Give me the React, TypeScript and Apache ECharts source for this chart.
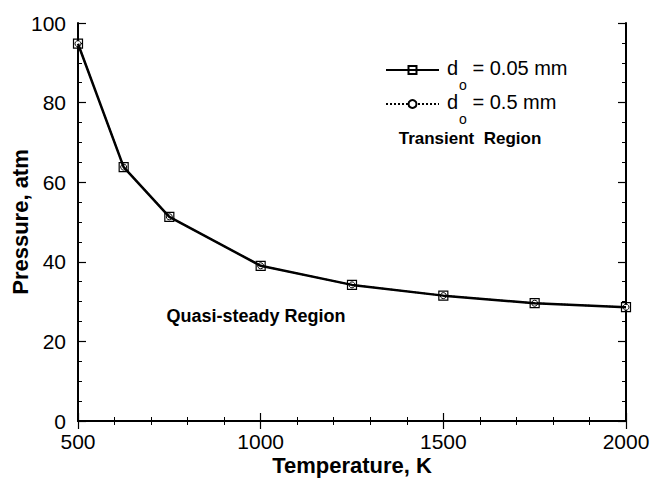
import React, { useEffect, useRef } from "react";
import * as echarts from "echarts";

const temperatures = [500, 625, 750, 1000, 1250, 1500, 1750, 2000];
const pressureSmall = [94.8, 63.8, 51.3, 39.0, 34.2, 31.5, 29.6, 28.6];
const pressureLarge = [94.8, 63.8, 51.3, 39.0, 34.2, 31.5, 29.6, 28.6];
const seriesNames = ["d_o = 0.05 mm", "d_o = 0.5 mm"];
const regionLabels = ["Transient  Region", "Quasi-steady Region"];

const FONT = "'Liberation Sans', Arial, sans-serif";

export default function App() {
  const ref = useRef<HTMLDivElement>(null);
  useEffect(() => {
    if (!ref.current) return;
    const chart = echarts.init(ref.current, null, { renderer: "svg" });
    const axisLine = { show: true, lineStyle: { color: "#000", width: 2 } };
    const tickMajor = { show: true, inside: true, length: 8, lineStyle: { color: "#000", width: 1.2 } };
    const tickMinor = { show: true, length: 4, lineStyle: { color: "#000", width: 1 } };
    const xBase = { type: "value", min: 500, max: 2000, interval: 500 };
    const yBase = { type: "value", min: 0, max: 100, interval: 20 };
    const plain = (v: number) => String(v);
    chart.setOption({
      animation: false,
      backgroundColor: "#fff",
      textStyle: { fontFamily: FONT },
      grid: { left: 78, top: 23, right: 32, bottom: 60, containLabel: false, outerBoundsMode: "none" },
      xAxis: [
        {
          ...xBase,
          position: "bottom",
          name: "Temperature, K",
          nameLocation: "middle",
          nameGap: 33,
          nameMoveOverlap: false,
          nameTextStyle: { fontFamily: FONT, fontSize: 22, fontWeight: "bold", color: "#000" },
          axisLine,
          axisTick: tickMajor,
          minorTick: { ...tickMinor, splitNumber: 5 },
          axisLabel: { fontFamily: FONT, fontSize: 21, color: "#000", margin: 10, formatter: plain },
          splitLine: { show: false },
        },
        {
          ...xBase,
          position: "top",
          axisLine,
          axisTick: tickMajor,
          minorTick: { ...tickMinor, splitNumber: 5 },
          axisLabel: { show: false },
          splitLine: { show: false },
        },
      ],
      yAxis: [
        {
          ...yBase,
          position: "left",
          name: "Pressure, atm",
          nameLocation: "middle",
          nameGap: 47,
          nameMoveOverlap: false,
          nameTextStyle: { fontFamily: FONT, fontSize: 22, fontWeight: "bold", color: "#000" },
          axisLine,
          axisTick: tickMajor,
          minorTick: { ...tickMinor, splitNumber: 4 },
          axisLabel: { fontFamily: FONT, fontSize: 21, color: "#000", margin: 12, formatter: plain },
          splitLine: { show: false },
        },
        {
          ...yBase,
          position: "right",
          axisLine,
          axisTick: tickMajor,
          minorTick: { ...tickMinor, splitNumber: 4 },
          axisLabel: { show: false },
          splitLine: { show: false },
        },
      ],
      legend: {
        orient: "vertical",
        left: 385,
        top: 58,
        padding: 0,
        itemWidth: 53,
        itemHeight: 10,
        itemGap: 0,
        data: seriesNames,
        formatter: (name: string) => {
          const [d, rest] = name.split("_o");
          return `{d|${d}}{s|o}{t|${rest}}`;
        },
        textStyle: {
          color: "#000",
          fontFamily: FONT,
          padding: [0, 0, 0, 3],
          rich: {
            d: { fontSize: 20, fontFamily: FONT, color: "#000", lineHeight: 24, verticalAlign: "top" },
            s: { fontSize: 14, fontFamily: FONT, color: "#000", lineHeight: 10, verticalAlign: "top", padding: [20, 0, 0, 1] },
            t: { fontSize: 20, fontFamily: FONT, color: "#000", lineHeight: 24, verticalAlign: "top" },
          },
        },
      },
      graphic: [
        {
          type: "text",
          x: 470,
          y: 138,
          style: {
            text: regionLabels[0],
            font: `bold 17px ${FONT}`,
            fill: "#000",
            align: "center",
            verticalAlign: "middle",
          },
        },
        {
          type: "text",
          x: 256,
          y: 316,
          style: {
            text: regionLabels[1],
            font: `bold 18px ${FONT}`,
            fill: "#000",
            align: "center",
            verticalAlign: "middle",
          },
        },
      ],
      series: [
        {
          name: seriesNames[1],
          type: "line",
          xAxisIndex: 0,
          yAxisIndex: 0,
          data: temperatures.map((t, i) => [t, pressureLarge[i]]),
          symbol: "circle",
          symbolSize: 6,
          lineStyle: { color: "#000", width: 1.5, type: "dotted" },
          itemStyle: { color: "#fff", borderColor: "#000", borderWidth: 1 },
          z: 2,
        },
        {
          name: seriesNames[0],
          type: "line",
          xAxisIndex: 0,
          yAxisIndex: 0,
          data: temperatures.map((t, i) => [t, pressureSmall[i]]),
          symbol: "rect",
          symbolSize: 9,
          lineStyle: { color: "#000", width: 2.5 },
          itemStyle: { color: "rgba(255,255,255,0)", borderColor: "#000", borderWidth: 1.2 },
          z: 3,
        },
      ],
    });
    return () => chart.dispose();
  }, []);
  return <div ref={ref} style={{ width: 658, height: 481, position: "absolute", left: 0, top: 0 }} />;
}
